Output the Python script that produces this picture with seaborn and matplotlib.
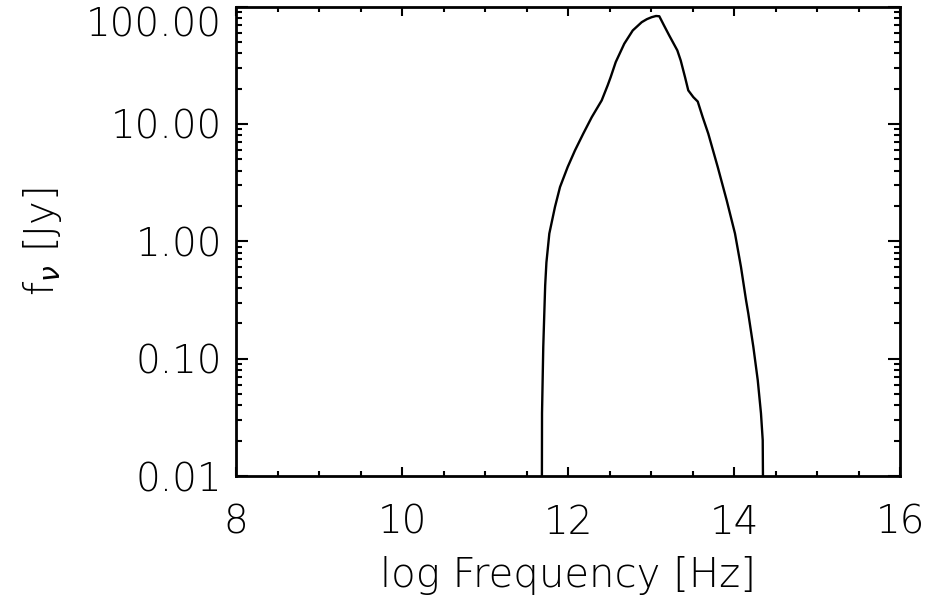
import numpy as np
import pandas as pd
import matplotlib
matplotlib.use("Agg")
import matplotlib.pyplot as plt
import seaborn as sns
from matplotlib.ticker import FixedLocator, FixedFormatter, LogLocator, NullFormatter, MultipleLocator

# Data (log10 frequency [Hz], flux density [Jy])
log_freq = [11.683, 11.687, 11.702, 11.715, 11.725, 11.740, 11.775, 11.843, 11.904, 11.996,
            12.084, 12.184, 12.286, 12.406, 12.478, 12.514, 12.575, 12.678, 12.780,
            12.888, 12.950, 13.008, 13.060, 13.100, 13.157, 13.220, 13.317, 13.358, 13.410,
            13.449, 13.510, 13.563, 13.623, 13.690, 13.804, 13.912, 14.012, 14.084,
            14.145, 14.172, 14.233, 14.286, 14.325, 14.346, 14.358]
flux = [0.001, 0.0343, 0.126, 0.25, 0.42, 0.66, 1.163, 1.96, 2.90, 4.29,
        5.94, 8.26, 11.4, 15.85, 21.3, 25.0, 33.6, 48.2, 62.5,
        73.5, 78.0, 81.1, 83.0, 82.6, 68.9, 56.6, 42.3, 34.7, 25.0,
        19.3, 16.9, 15.5, 11.4, 8.26, 4.29, 2.23, 1.163, 0.604,
        0.315, 0.243, 0.126, 0.0656, 0.0342, 0.0202, 0.001]

x_ticks = [8, 10, 12, 14, 16]
x_tick_labels = ["8", "10", "12", "14", "16"]
y_ticks = [0.01, 0.1, 1, 10, 100]
y_tick_labels = ["0.01", "0.10", "1.00", "10.00", "100.00"]

df = pd.DataFrame({"logf": log_freq, "flux": flux})

sns.set_theme(style="white")
plt.rcParams["font.family"] = ["DejaVu Sans"]
plt.rcParams["font.weight"] = "light"
plt.rcParams["axes.labelweight"] = "light"

fig = plt.figure(figsize=(9.25, 5.98), dpi=100)
ax = fig.add_axes([236 / 925, 1 - 476 / 598, (900 - 236) / 925, (476 - 6.5) / 598])

sns.lineplot(data=df, x="logf", y="flux", ax=ax, sort=False, estimator=None,
             color="black", linewidth=1.7)

ax.set_yscale("log")
ax.set_xlim(8, 16)
ax.set_ylim(0.01, 100)

ax.xaxis.set_major_locator(FixedLocator(x_ticks))
ax.xaxis.set_major_formatter(FixedFormatter(x_tick_labels))
ax.xaxis.set_minor_locator(MultipleLocator(0.5))
ax.yaxis.set_major_locator(FixedLocator(y_ticks))
ax.yaxis.set_major_formatter(FixedFormatter(y_tick_labels))
ax.yaxis.set_minor_locator(LogLocator(base=10, subs=np.arange(2, 10)))
ax.yaxis.set_minor_formatter(NullFormatter())

for s in ax.spines.values():
    s.set_visible(True)
    s.set_color("black")
    s.set_linewidth(2.0)

ax.tick_params(axis="both", which="both", direction="in", top=True, right=True,
               bottom=True, left=True, color="black", labelcolor="black", width=1.5)
ax.tick_params(axis="x", which="major", length=6.5, pad=20, labelsize=28)
ax.tick_params(axis="x", which="minor", length=3.3)
ax.tick_params(axis="y", which="major", length=8.6, pad=10, labelsize=28)
ax.tick_params(axis="y", which="minor", length=4.3)

# top label sits inside the figure
for lab in ax.get_yticklabels():
    if lab.get_text() == "100.00":
        lab.set_verticalalignment("top")

ax.set_xlabel("log Frequency [Hz]", fontsize=29, fontweight="light", labelpad=10, color="black")
ax.set_ylabel(r"f$_\nu$ [Jy]", fontsize=29, fontweight="light", labelpad=16, color="black")
ax.grid(False)

fig.savefig("out.png", dpi=100)
